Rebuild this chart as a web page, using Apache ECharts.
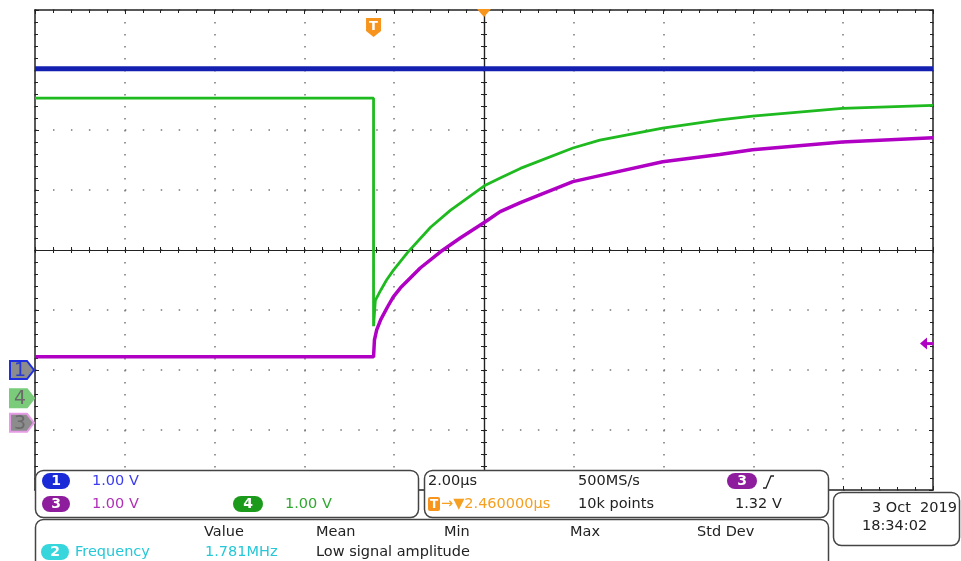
<!DOCTYPE html>
<html>
<head>
<meta charset="utf-8">
<script src="https://cdn.jsdelivr.net/npm/echarts@6/dist/echarts.min.js"></script>
<style>
html, body { margin: 0; padding: 0; background: #fff; }
#main { width: 961px; height: 561px; }
</style>
</head>
<body>
<div id="main"></div>
<script>
// scope settings
var trigDelay = 2.46;      // µs from trigger to centre of screen
var usPerDiv = 2.0;
var voltsPerDiv = 1.0;
var ch1Pos = -2.00;        // ground markers, divisions from centre
var ch4Pos = -2.47;
var ch3Pos = -2.88;
var trigLevel = 1.32;      // V on ch3

// traces: time in µs relative to trigger, value in volts
var ch1Time = [-7.54, 12.46];
var ch1Volts = [5.02, 5.02];

var ch4Time = [-7.54, 0, 0, 0.04, 0.16, 0.29, 0.44, 0.76, 1.27, 1.71, 2.49, 2.82, 3.27, 4.44, 5.04, 6.44, 7.71, 8.44, 10.44, 12.46];
var ch4Volts = [5.00, 5.00, 1.20, 1.63, 1.80, 1.97, 2.13, 2.43, 2.85, 3.13, 3.55, 3.67, 3.83, 4.17, 4.30, 4.50, 4.64, 4.70, 4.83, 4.88];

var ch3Time = [-7.54, 0, 0.02, 0.07, 0.16, 0.31, 0.44, 0.60, 1.04, 1.49, 1.93, 2.49, 2.82, 3.27, 4.44, 5.04, 6.44, 7.71, 8.44, 10.44, 12.46];
var ch3Volts = [1.10, 1.10, 1.38, 1.55, 1.72, 1.93, 2.10, 2.25, 2.58, 2.85, 3.08, 3.35, 3.52, 3.67, 4.02, 4.12, 4.35, 4.47, 4.55, 4.68, 4.75];

var FONT = 'DejaVu Sans';
var FS = '14.5px';
var GRID_COL = '#222';

function toScreen(times, volts, pos) {
    return times.map(function (t, i) {
        return [t - trigDelay, volts[i] / voltsPerDiv + pos];
    });
}

var dom = document.getElementById('main');
var myChart = echarts.init(dom, null, { renderer: 'canvas' });

function axisBase(extra) {
    var a = {
        type: 'value',
        axisLabel: { show: false },
        splitLine: { show: false },
        axisLine: { show: true, onZero: false, lineStyle: { color: GRID_COL, width: 1.5 } },
        axisTick: { show: true, inside: true, length: 4, lineStyle: { color: GRID_COL, width: 1 } },
        minorTick: { show: true, splitNumber: 5, length: 3, lineStyle: { color: GRID_COL, width: 1 } }
    };
    for (var k in extra) a[k] = extra[k];
    return a;
}

var xr = { min: -5 * usPerDiv, max: 5 * usPerDiv, interval: usPerDiv };
var yr = { min: -4, max: 4, interval: 1 };

function ext(r, more) {
    var o = { min: r.min, max: r.max, interval: r.interval };
    for (var k in more) o[k] = more[k];
    return o;
}

var option = {
    animation: false,
    backgroundColor: '#fff',
    grid: { left: 35, right: 28, top: 10, bottom: 71 },
    xAxis: [
        // centre line, ticks down, with dotted graticule
        axisBase(ext(xr, {
            position: 'bottom',
            axisLine: { show: true, onZero: true, onZeroAxisIndex: 0, lineStyle: { color: GRID_COL, width: 1.2 } },
            axisTick: { show: true, inside: false, length: 3, lineStyle: { color: GRID_COL } },
            splitLine: { show: true, lineStyle: { color: '#777', width: 1.5, type: [1.5, 10.5] } }
        })),
        // centre line, ticks up
        axisBase(ext(xr, {
            position: 'bottom',
            axisLine: { show: true, onZero: true, onZeroAxisIndex: 0, lineStyle: { color: GRID_COL, width: 1.2 } },
            axisTick: { show: true, inside: true, length: 3, lineStyle: { color: GRID_COL } }
        })),
        axisBase(ext(xr, { position: 'top' })),
        axisBase(ext(xr, { position: 'bottom' }))
    ],
    yAxis: [
        axisBase(ext(yr, {
            position: 'left',
            axisLine: { show: true, onZero: true, onZeroAxisIndex: 0, lineStyle: { color: GRID_COL, width: 1.2 } },
            axisTick: { show: true, inside: false, length: 3, lineStyle: { color: GRID_COL } },
            splitLine: { show: true, lineStyle: { color: '#777', width: 1.5, type: [1.5, 16.46] } }
        })),
        axisBase(ext(yr, {
            position: 'left',
            axisLine: { show: true, onZero: true, onZeroAxisIndex: 0, lineStyle: { color: GRID_COL, width: 1.2 } },
            axisTick: { show: true, inside: true, length: 3, lineStyle: { color: GRID_COL } }
        })),
        axisBase(ext(yr, { position: 'left' })),
        axisBase(ext(yr, { position: 'right' }))
    ],
    series: [
        {
            name: 'CH1', type: 'line', symbol: 'none',
            data: toScreen(ch1Time, ch1Volts, ch1Pos),
            lineStyle: { color: '#1420b0', width: 5 }, z: 3
        },
        {
            name: 'CH3', type: 'line', symbol: 'none',
            data: toScreen(ch3Time, ch3Volts, ch3Pos),
            lineStyle: { color: '#b000c4', width: 3.5 }, z: 3
        },
        {
            name: 'CH4', type: 'line', symbol: 'none',
            data: toScreen(ch4Time, ch4Volts, ch4Pos),
            lineStyle: { color: '#1fba1f', width: 2.8 }, z: 4
        }
    ]
};

myChart.setOption(option);

// ---- annotations (markers, readout panels) ----
function px(x, y) {
    return myChart.convertToPixel({ xAxisIndex: 0, yAxisIndex: 0 }, [x, y]);
}

function txt(x, y, s, color, more) {
    var st = { text: s, x: x, y: y, fill: color || '#222', font: FS + ' "' + FONT + '"', verticalAlign: 'middle', align: 'left' };
    for (var k in more) st[k] = more[k];
    return { type: 'text', z: 120, style: st };
}

function pill(x, y, w, label, color) {
    return [
        { type: 'rect', z: 110, shape: { x: x, y: y, width: w, height: 16, r: 8 }, style: { fill: color } },
        txt(x + w / 2, y + 8.5, label, '#fff', { align: 'center', font: 'bold 14px "' + FONT + '"' })
    ];
}

function panel(x, y, w, h) {
    return { type: 'rect', z: 100, shape: { x: x, y: y, width: w, height: h, r: 8 }, style: { fill: '#fff', stroke: '#444', lineWidth: 1.5 } };
}

function chMarker(cy, fill, stroke, label, labelColor) {
    return [
        { type: 'polygon', z: 110, shape: { points: [[10, cy - 9], [27, cy - 9], [34, cy], [27, cy + 9], [10, cy + 9]] },
          style: { fill: fill, stroke: stroke, lineWidth: 2 } },
        txt(20, cy + 1, label, labelColor, { align: 'center', font: '19px "' + FONT + '"' })
    ];
}

var trigX = px(-trigDelay, 0)[0];
var centreX = px(0, 0)[0];
var topY = px(0, 4)[1];
var rightX = px(5 * usPerDiv, 0)[0];
var levelY = px(0, trigLevel / voltsPerDiv + ch3Pos)[1];

var g = [];
// trigger position marker
g.push({ type: 'polygon', z: 110, shape: { points: [[trigX - 7.5, 18], [trigX + 7.5, 18], [trigX + 7.5, 31], [trigX, 37], [trigX - 7.5, 31]] }, style: { fill: '#f7941d' } });
g.push(txt(trigX, 27, 'T', '#fff', { align: 'center', font: 'bold 13px "' + FONT + '"' }));
// horizontal position marker
g.push({ type: 'polygon', z: 110, shape: { points: [[centreX - 7, topY - 1], [centreX + 7, topY - 1], [centreX, topY + 7]] }, style: { fill: '#f7941d' } });
// trigger level arrow
g.push({ type: 'polygon', z: 110, shape: { points: [[rightX - 13, levelY], [rightX - 6, levelY - 6], [rightX - 6, levelY + 6]] }, style: { fill: '#b000c4' } });
g.push({ type: 'rect', z: 110, shape: { x: rightX - 7, y: levelY - 1.5, width: 7, height: 3 }, style: { fill: '#b000c4' } });

// channel ground markers
g = g.concat(chMarker(px(0, ch1Pos)[1], '#8c8c8c', '#1f2fe0', '1', '#2a3ad0'));
g = g.concat(chMarker(px(0, ch4Pos)[1], '#7acb7a', '#7acb7a', '4', '#6a6a6a'));
g = g.concat(chMarker(px(0, ch3Pos)[1], '#8c8c8c', '#e69be6', '3', '#6a6a6a'));

// readout panels
g.push(panel(35.5, 470.5, 383, 47));
g.push(panel(424.5, 470.5, 404, 47));
g.push(panel(35.5, 519.5, 793, 60));
g.push(panel(833.5, 492.5, 126, 53));

g = g.concat(pill(42, 473, 28, '1', '#1a2ad6'));
g.push(txt(92, 481, '1.00 V', '#3c3cf0'));
g = g.concat(pill(42, 496, 28, '3', '#8e1d9e'));
g.push(txt(92, 504, '1.00 V', '#b030b8'));
g = g.concat(pill(233, 496, 30, '4', '#1c9a1c'));
g.push(txt(285, 504, '1.00 V', '#2fa82f'));

g.push(txt(428, 481, '2.00µs', '#222'));
g.push(txt(578, 481, '500MS/s', '#222'));
g = g.concat(pill(727, 473, 30, '3', '#8e1d9e'));
g.push({ type: 'polyline', z: 120, shape: { points: [[763, 488], [766, 488], [771, 476], [774, 476]] }, style: { stroke: '#222', lineWidth: 1.3, fill: null } });
g.push({ type: 'rect', z: 110, shape: { x: 428, y: 497, width: 12, height: 14, r: 2 }, style: { fill: '#f7941d' } });
g.push(txt(434, 504.5, 'T', '#fff', { align: 'center', font: 'bold 12px "' + FONT + '"' }));
g.push(txt(441, 504, '→▼2.460000µs', '#f5a020'));
g.push(txt(578, 504, '10k points', '#222'));
g.push(txt(735, 504, '1.32 V', '#222'));

g.push(txt(204, 532, 'Value', '#222'));
g.push(txt(316, 532, 'Mean', '#222'));
g.push(txt(444, 532, 'Min', '#222'));
g.push(txt(570, 532, 'Max', '#222'));
g.push(txt(697, 532, 'Std Dev', '#222'));
g = g.concat(pill(41, 544, 28, '2', '#36d6dc'));
g.push(txt(75, 552, 'Frequency', '#25c8d6'));
g.push(txt(205, 552, '1.781MHz', '#25c8d6'));
g.push(txt(316, 552, 'Low signal amplitude', '#222'));

g.push(txt(957, 508, '3 Oct  2019', '#222', { align: 'right' }));
g.push(txt(862, 526, '18:34:02', '#222'));

myChart.setOption({ graphic: g });
</script>
</body>
</html>
